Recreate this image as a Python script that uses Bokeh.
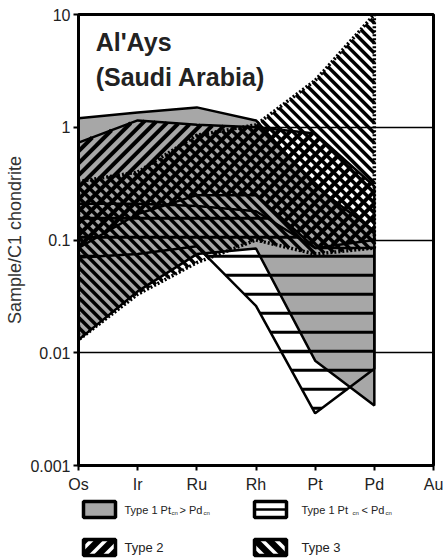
import math
from bokeh.plotting import figure
from bokeh.models import Range1d, FixedTicker, Label
from bokeh.layouts import column
from bokeh.core.properties import value
from bokeh.embed import file_html
from bokeh.resources import INLINE

# PGE order on the x axis (Au has no field values)
elements = ["Os", "Ir", "Ru", "Rh", "Pt", "Pd", "Au"]
y_ticks = [0.001, 0.01, 0.1, 1, 10]
y_tick_labels = ["0.001", "0.01", "0.1", "1", "10"]

# Chondrite-normalised envelopes, values at Os, Ir, Ru, Rh, Pt, Pd
type1_gt_upper = [1.2, 1.35, 1.5, 1.15, 0.3, 0.12]
type1_gt_lower = [0.013, 0.035, 0.075, 0.084, 0.0085, 0.0034]
type1_lt_upper = [0.21, 0.21, 0.2, 0.18, 0.085, 0.085]
type1_lt_lower = [0.07, 0.075, 0.088, 0.026, 0.0029, 0.0072]
type2_upper = [0.73, 1.15, 1.05, 1.0, 0.88, 0.3]
type2_lower = [0.085, 0.17, 0.25, 0.25, 0.085, 0.1]
type3_upper = [0.33, 0.4, 0.85, 1.05, 2.6, 10]
type3_lower = [0.013, 0.033, 0.063, 0.1, 0.075, 0.085]

legend_names = ["Type 2", "Type 3"]

FONT = "Liberation Sans"
GRAY = "#a7a7a7"

W, H = 443, 495
BORDER_L, BORDER_R, BORDER_T, BORDER_B = 78, 10, 14, 30
# screen pixels per element step and per decade, used to rule 45-degree hatching
SX = (W - BORDER_L - BORDER_R) / 6
SY = (H - BORDER_T - BORDER_B) / 4

# ruling directions as (a, b) in a*u + b*v = c, with u right and v up (pixels)
RULE = {"/": (-1.0, 1.0), "\\": (1.0, 1.0), "-": (0.0, 1.0)}


def rule_polygon(us, vs, direction, period, offset=0.0):
    """Clip a family of parallel rulings to a polygon given in pixel space."""
    a, b = RULE[direction]
    s = [a * u + b * v for u, v in zip(us, vs)]
    t = [-b * u + a * v for u, v in zip(us, vs)]
    n = len(us)
    k0 = math.ceil((min(s) - offset) / period)
    k1 = math.floor((max(s) - offset) / period)
    out_u, out_v = [], []
    for k in range(k0, k1 + 1):
        c = offset + k * period
        hits = []
        for i in range(n):
            j = (i + 1) % n
            s1, s2 = s[i], s[j]
            if (s1 <= c < s2) or (s2 <= c < s1):
                f = (c - s1) / (s2 - s1)
                hits.append((t[i] + f * (t[j] - t[i]),
                             us[i] + f * (us[j] - us[i]),
                             vs[i] + f * (vs[j] - vs[i])))
        hits.sort()
        for m in range(0, len(hits) - 1, 2):
            out_u.append([hits[m][1], hits[m + 1][1]])
            out_v.append([hits[m][2], hits[m + 1][2]])
    return out_u, out_v


def envelope(upper, lower):
    idx = list(range(len(upper)))
    return idx + idx[::-1], list(upper) + list(lower)[::-1]


def field_rulings(upper, lower, direction, period, offset=0.0):
    xs, ys = envelope(upper, lower)
    us = [x * SX for x in xs]
    vs = [math.log10(y) * SY for y in ys]
    ru, rv = rule_polygon(us, vs, direction, period, offset)
    return ([[u / SX for u in seg] for seg in ru],
            [[10 ** (v / SY) for v in seg] for seg in rv])


p = figure(width=W, height=H, x_range=Range1d(0, 6),
           y_range=Range1d(0.001, 10), y_axis_type="log",
           output_backend="svg", toolbar_location=None,
           min_border_left=BORDER_L, min_border_right=BORDER_R,
           min_border_top=BORDER_T, min_border_bottom=BORDER_B,
           background_fill_color="white", border_fill_color="white")

# Type 1, Pt_cn > Pd_cn: grey field
xs, ys = envelope(type1_gt_upper, type1_gt_lower)
p.patch(xs, ys, fill_color=GRAY, line_color="black", line_width=2.5)

# rulings: Type 1 Pt_cn < Pd_cn horizontal, Type 2 "/", Type 3 "\"
rx, ry = field_rulings(type1_lt_upper, type1_lt_lower, "-", 19, 4)
p.multi_line(rx, ry, line_color="black", line_width=3)
rx, ry = field_rulings(type2_upper, type2_lower, "/", 12)
p.multi_line(rx, ry, line_color="black", line_width=4)
rx, ry = field_rulings(type3_upper, type3_lower, "\\", 10)
p.multi_line(rx, ry, line_color="black", line_width=3.5)

# field outlines
xs, ys = envelope(type1_lt_upper, type1_lt_lower)
p.patch(xs, ys, fill_color=None, line_color="black", line_width=2.5)
xs, ys = envelope(type2_upper, type2_lower)
p.patch(xs, ys, fill_color=None, line_color="black", line_width=2.5)
xs, ys = envelope(type3_upper, type3_lower)
p.patch(xs, ys, fill_color=None, line_color="black", line_width=3.5, line_dash="2 2")

# axes and frame
p.outline_line_color = "black"
p.outline_line_width = 3
p.xaxis.ticker = FixedTicker(ticks=list(range(len(elements))))
p.xaxis.major_label_overrides = {i: e for i, e in enumerate(elements)}
p.yaxis.ticker = FixedTicker(ticks=y_ticks)
p.yaxis.major_label_overrides = dict(zip(y_ticks, y_tick_labels))
for ax in (p.xaxis, p.yaxis):
    ax.axis_line_width = 3
    ax.axis_line_color = "black"
    ax.major_tick_line_width = 2
    ax.major_tick_line_color = "black"
    ax.major_tick_out = 5
    ax.major_tick_in = 0
    ax.minor_tick_line_color = None
    ax.major_label_text_font = FONT
    ax.major_label_text_font_size = "16px"
    ax.major_label_text_color = "#222222"
p.xaxis.major_label_standoff = 5
p.yaxis.major_label_standoff = 3
p.yaxis.axis_label = "Sample/C1 chondrite"
p.yaxis.axis_label_text_font = FONT
p.yaxis.axis_label_text_font_size = "18px"
p.yaxis.axis_label_text_font_style = "normal"
p.yaxis.axis_label_text_color = "#333333"
p.yaxis.axis_label_standoff = 2

p.xgrid.visible = False
p.ygrid.ticker = FixedTicker(ticks=[0.01, 0.1, 1])
p.ygrid.grid_line_color = "black"
p.ygrid.grid_line_width = 1.5

p.add_layout(Label(x=0.29, y=4.3, text="Al'Ays", text_font=FONT,
                   text_font_style="bold", text_font_size="25px",
                   text_color="#222222"))
p.add_layout(Label(x=0.29, y=2.1, text="(Saudi Arabia)", text_font=FONT,
                   text_font_style="bold", text_font_size="25px",
                   text_color="#222222"))

# legend panel; its frame lines up with the plot frame (x 78..433), y measured downward
lg = figure(width=W, height=63, x_range=Range1d(78, 433), y_range=Range1d(63, 0),
            output_backend="svg", toolbar_location=None,
            min_border=0, background_fill_color="white", border_fill_color="white")
lg.axis.visible = False
lg.grid.visible = False
lg.outline_line_color = None

bw, bh = 32, 16
lg.rect(x=[99], y=[14], width=bw, height=bh, fill_color=GRAY,
        line_color="black", line_width=3.5)
lg.rect(x=[270], y=[14], width=bw, height=bh, fill_color="white",
        line_color="black", line_width=3.5)
lg.segment(x0=[254], y0=[14], x1=[286], y1=[14], line_color="black", line_width=2.5)
lg.rect(x=[99, 270], y=[52, 52], width=bw, height=bh, fill_color="black",
        line_color=None)
for cx, direction in ((99, "/"), (270, "\\")):
    bu = [cx - bw / 2, cx + bw / 2, cx + bw / 2, cx - bw / 2]
    bv = [-60, -60, -44, -44]
    ru, rv = rule_polygon(bu, bv, direction, 14, cx + 3)
    lg.multi_line(ru, [[-v for v in seg] for seg in rv], line_color="white", line_width=3.5)
lg.rect(x=[99, 270], y=[52, 52], width=bw, height=bh, fill_color=None,
        line_color="black", line_width=3.5)

txt = dict(text_font=value(FONT), text_color="#222222", text_baseline="middle",
           text_align="left")
lg.text(x=[124, 179, 301, 361], y=[14, 14, 14, 14],
        text=["Type 1 Pt", "> Pd", "Type 1  Pt", "< Pd"],
        text_font_size="11px", **txt)
lg.text(x=[171, 203, 352, 385], y=[17, 17, 17, 17], text=["cn"] * 4,
        text_font_size="6px", **txt)
lg.text(x=[124, 301], y=[52, 52], text=legend_names,
        text_font_size="13px", **txt)

layout = column(p, lg, spacing=0)
open("out.html", "w").write(file_html(layout, INLINE))
